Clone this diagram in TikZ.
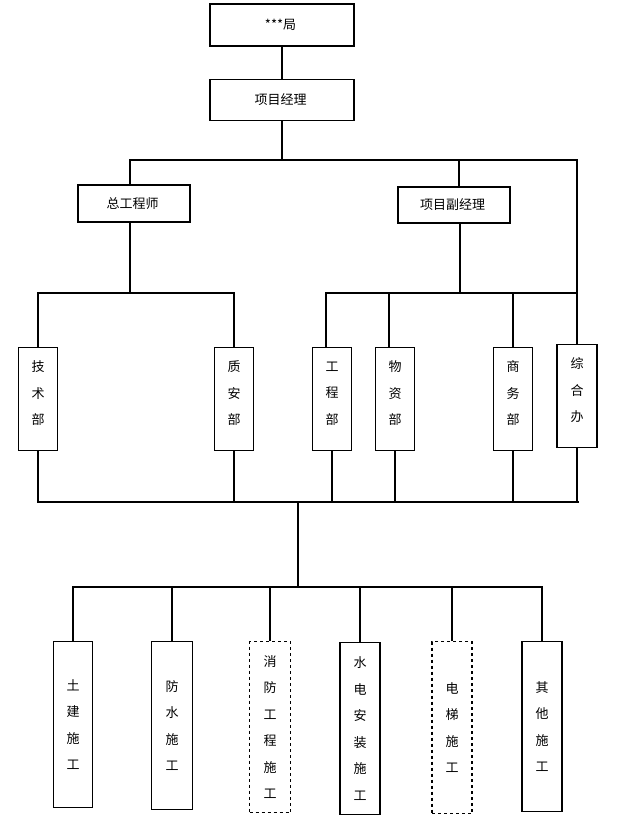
\documentclass[tikz,border=0pt]{standalone}
\usepackage{fontspec}
\newfontfamily\cjk{Noto Sans CJK SC}
\usetikzlibrary{positioning}
\tikzset{
    module/.style={
           rectangle,
           draw=black, line width=1.3pt,
           inner sep=0pt,
           align=center,
           font=\cjk\fontsize{13}{26.5}\selectfont,
           },
    dept/.style={
           module,
           minimum width=39pt,
           minimum height=103pt,
           anchor=north,
           },
    team/.style={
           module,
           minimum width=40pt,
           anchor=north,
           },
    link/.style={line width=1.3pt},
}

\begin{document}
\begin{tikzpicture}[x=1pt,y=-1pt,link]

 \useasboundingbox (0,0) rectangle (641,817);

 \node[module,
  minimum width=144pt,
  minimum height=42pt] (JU) at (282,25)
 {%
  ***局
 };

 \node[module,
  minimum width=144pt,
  minimum height=41pt,
  below=32pt of JU] (XMJL)
 {%
  项目经理
 };

 \node[module,
  minimum width=112pt,
  minimum height=37pt] (ZGCS) at (134,203.5)
 {%
  总工程师
 };

 \node[module,
  minimum width=112pt,
  minimum height=36pt] (XMFJL) at (454,205)
 {%
  项目副经理
 };

 % departments (text sits a little above the middle)
 \node[dept] (JSB) at (38,347) {技\\术\\部\\[-14pt]\mbox{}};
 \node[dept] (ZAB) at (234,347) {质\\安\\部\\[-14pt]\mbox{}};
 \node[dept] (GCB) at (332,347) {工\\程\\部\\[-14pt]\mbox{}};
 \node[dept] (WZB) at (395,347) {物\\资\\部\\[-14pt]\mbox{}};
 \node[dept] (SWB) at (513,347) {商\\务\\部\\[-14pt]\mbox{}};
 \node[dept,
  minimum width=40pt] (ZHB) at (577,344) {综\\合\\办\\[-14pt]\mbox{}};

 % site teams
 \node[team,
  minimum width=39pt,
  minimum height=166pt] (TJ) at (73,641) {土\\建\\施\\工};
 \node[team,
  minimum width=41pt,
  minimum height=168pt] (FS) at (172,641) {防\\水\\施\\工};
 \node[team,
  dashed,
  minimum width=41pt,
  minimum height=171pt] (XF) at (270,641) {消\\防\\工\\程\\施\\工};
 \node[team,
  minimum height=172pt] (SD) at (360,642) {水\\电\\安\\装\\施\\工};
 \node[team,
  dashed,
  minimum height=172pt] (DT) at (452,641) {电\\梯\\施\\工};
 \node[team,
  minimum height=170pt] (QT) at (542,641) {其\\他\\施\\工};

 \coordinate (TOP_BUS) at (0,160);
 \coordinate (MID_BUS) at (0,293);
 \coordinate (LOW_BUS) at (0,502);
 \coordinate (BOT_BUS) at (0,587);
 \coordinate (HUB) at (298,502);

 \draw (JU) -- (XMJL);

 \draw ([xshift=-4pt]ZGCS.north) -- ([xshift=-4pt]ZGCS.north |- TOP_BUS) -- (ZHB.north |- TOP_BUS) -- (ZHB.north);
 \draw (XMJL.south) -- (XMJL.south |- TOP_BUS);
 \draw ([xshift=5pt]XMFJL.north) -- ([xshift=5pt]XMFJL.north |- TOP_BUS);

 \draw (JSB.north) -- (JSB.north |- MID_BUS) -- (ZAB.north |- MID_BUS) -- (ZAB.north);
 \draw ([xshift=-4pt]ZGCS.south) -- ([xshift=-4pt]ZGCS.south |- MID_BUS);

 \draw ([xshift=-6pt]GCB.north) -- ([xshift=-6pt]GCB.north |- MID_BUS) -- (ZHB.north |- MID_BUS);
 \draw ([xshift=-6pt]WZB.north) -- ([xshift=-6pt]WZB.north |- MID_BUS);
 \draw (SWB.north) -- (SWB.north |- MID_BUS);
 \draw ([xshift=6pt]XMFJL.south) -- ([xshift=6pt]XMFJL.south |- MID_BUS);

 \draw ([xshift=-1pt]JSB.south |- LOW_BUS) -- ([xshift=2pt]ZHB.south |- LOW_BUS);
 \draw (JSB.south) -- (JSB.south |- LOW_BUS);
 \draw (ZAB.south) -- (ZAB.south |- LOW_BUS);
 \draw (GCB.south) -- (GCB.south |- LOW_BUS);
 \draw (WZB.south) -- (WZB.south |- LOW_BUS);
 \draw (SWB.south) -- (SWB.south |- LOW_BUS);
 \draw (ZHB.south) -- (ZHB.south |- LOW_BUS);

 \draw (HUB) -- (HUB |- BOT_BUS);

 \draw (TJ.north) -- (TJ.north |- BOT_BUS) -- (QT.north |- BOT_BUS) -- (QT.north);
 \draw (FS.north) -- (FS.north |- BOT_BUS);
 \draw (XF.north) -- (XF.north |- BOT_BUS);
 \draw (SD.north) -- (SD.north |- BOT_BUS);
 \draw (DT.north) -- (DT.north |- BOT_BUS);

\end{tikzpicture}
\end{document}
